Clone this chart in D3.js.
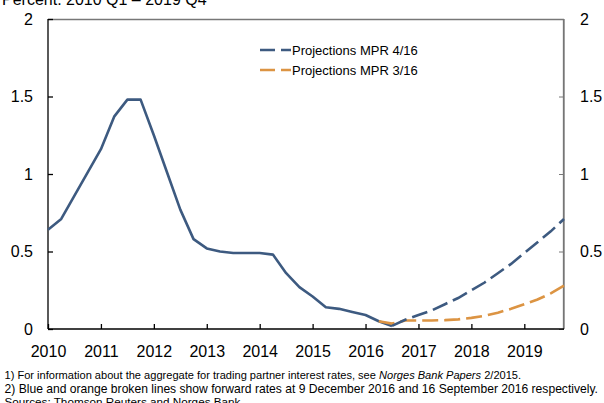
<!DOCTYPE html>
<html><head><meta charset="utf-8">
<script src="https://cdn.jsdelivr.net/npm/d3@7"></script>
<style>
html,body{margin:0;padding:0;background:#fff;}
svg{display:block;font-family:"Liberation Sans",Arial,Helvetica,sans-serif;}
</style></head>
<body>
<svg id="c" width="604" height="403"></svg>
<script>
// Quarter index 0 = 2010 Q1 ... 39 = 2019 Q4
const yearLabels = ["2010","2011","2012","2013","2014","2015","2016","2017","2018","2019"];
const yTicks = [0, 0.5, 1, 1.5, 2];
const yTickLabels = ["0","0.5","1","1.5","2"];
// Actual (2010 Q1 - 2016 Q3)
const histStart = 0;
const histValues = [0.64,0.71,0.86,1.01,1.16,1.37,1.48,1.48,1.25,1.01,0.77,0.58,0.52,0.50,0.49,0.49,0.49,0.48,0.36,0.27,0.21,0.14,0.13,0.11,0.09,0.05,0.02];
// Projections MPR 4/16 (from 2016 Q3)
const mpr416Start = 26;
const mpr416Values = [0.02,0.06,0.09,0.12,0.16,0.20,0.25,0.30,0.36,0.42,0.49,0.56,0.63,0.71];
// Projections MPR 3/16 (from 2016 Q2)
const mpr316Start = 25;
const mpr316Values = [0.05,0.035,0.055,0.055,0.055,0.057,0.062,0.072,0.085,0.105,0.13,0.16,0.19,0.23,0.28];
const legendLabels = ["Projections MPR 4/16","Projections MPR 3/16"];
const titleText = "Percent. 2010 Q1 \u2013 2019 Q4";
const notes = [
  ["1) For information about the aggregate for trading partner interest rates, see ", "Norges Bank Papers", " 2/2015."],
  ["2) Blue and orange broken lines show forward rates at 9 December 2016 and 16 September 2016 respectively."],
  ["Sources: Thomson Reuters and Norges Bank"]
];
const noteWidths = [517, 594, 236];

const BLUE = "#3d5a80", ORANGE = "#dc9443";
const svg = d3.select("#c");
const L = 48, R = 564, T = 19, B = 329;
const x = d3.scaleLinear().domain([0, 39]).range([L, R]);
const y = d3.scaleLinear().domain([0, 2]).range([B, T]);

// title (partially cut at top, as in the reference)
svg.append("text").attr("x", 2).attr("y", 5).attr("font-size", 16).attr("fill", "#000").text(titleText);

// frame top/right
svg.append("line").attr("x1", L).attr("x2", R).attr("y1", T + 0.5).attr("y2", T + 0.5).attr("stroke", "#777").attr("stroke-width", 1.3);
svg.append("line").attr("x1", R - 0.5).attr("x2", R - 0.5).attr("y1", T).attr("y2", B).attr("stroke", "#777").attr("stroke-width", 1.3);

// left axis
const yl = svg.append("g").attr("transform", `translate(${L},0)`)
  .call(d3.axisRight(y).tickValues(yTicks).tickSize(5).tickFormat((d, i) => yTickLabels[i]));
yl.selectAll("text").attr("x", -15).attr("text-anchor", "end").attr("font-size", 16).attr("fill", "#000");
// right axis
const yr = svg.append("g").attr("transform", `translate(${R},0)`)
  .call(d3.axisLeft(y).tickValues(yTicks).tickSize(5).tickFormat((d, i) => yTickLabels[i]));
yr.selectAll("text").attr("x", 16).attr("text-anchor", "start").attr("font-size", 16).attr("fill", "#000");
yr.selectAll("line,path").attr("stroke", "#777");
// bottom axis
const xb = svg.append("g").attr("transform", `translate(0,${B})`)
  .call(d3.axisTop(x).tickValues(yearLabels.map((d, i) => i * 4)).tickSize(5).tickFormat((d, i) => yearLabels[i]));
xb.selectAll("text").attr("y", 28).attr("font-size", 16).attr("fill", "#000");
[yl, xb].forEach(g => g.selectAll("line,path").attr("stroke", "#000").attr("stroke-width", 1.3));
yr.select("path").attr("stroke-width", 1.3);
yl.select(".domain").attr("d", `M0,${T}V${B}`);
xb.select(".domain").attr("d", `M${L},0H${R}`);
yr.select(".domain").attr("d", `M0,${T}V${B}`);

const line = d3.line().x(d => x(d[0])).y(d => y(d[1]));
const pts = (start, vals) => vals.map((v, i) => [start + i, v]);

svg.append("path").datum(pts(histStart, histValues)).attr("d", line)
  .attr("fill", "none").attr("stroke", BLUE).attr("stroke-width", 2.6).attr("stroke-linejoin", "round");
svg.append("path").datum(pts(mpr316Start, mpr316Values)).attr("d", line)
  .attr("fill", "none").attr("stroke", ORANGE).attr("stroke-width", 2.6).attr("stroke-dasharray", "16,6");
svg.append("path").datum(pts(mpr416Start, mpr416Values)).attr("d", line)
  .attr("fill", "none").attr("stroke", BLUE).attr("stroke-width", 2.6).attr("stroke-dasharray", "16,6");

// legend
const lg = svg.append("g");
[[BLUE, 50], [ORANGE, 70]].forEach((c, i) => {
  lg.append("line").attr("x1", 260).attr("x2", 291).attr("y1", c[1]).attr("y2", c[1])
    .attr("stroke", c[0]).attr("stroke-width", 2.6).attr("stroke-dasharray", "15,6");
  lg.append("text").attr("x", 292).attr("y", c[1] + 4.5).attr("font-size", 13).attr("fill", "#000").text(legendLabels[i]);
});

// notes: font size fitted so each line spans the reference width
notes.forEach((parts, i) => {
  const t = svg.append("text").attr("x", 4.5).attr("y", 379 + i * 13.5).attr("font-size", 12).attr("fill", "#000");
  parts.forEach((p, j) => t.append("tspan").attr("font-style", j === 1 ? "italic" : null).text(p));
  const w = t.node().getComputedTextLength();
  if (w > 0) t.attr("font-size", (12 * noteWidths[i] / w).toFixed(2));
});
</script>
</body></html>
